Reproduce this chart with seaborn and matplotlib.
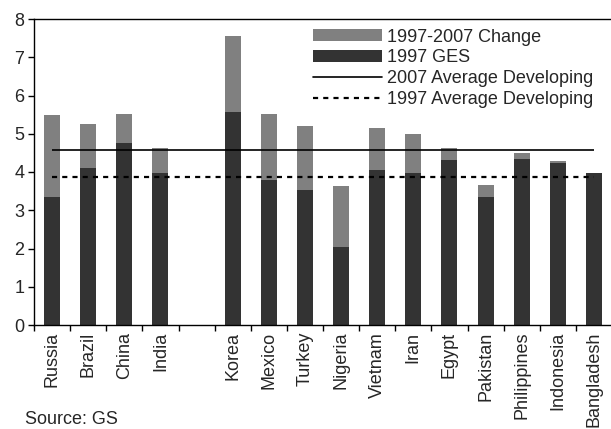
import matplotlib
matplotlib.use("Agg")
import matplotlib.pyplot as plt
import seaborn as sns
import pandas as pd
from matplotlib.patches import Patch
from matplotlib.lines import Line2D

# Data
countries = ["Russia", "Brazil", "China", "India", "Korea", "Mexico", "Turkey",
             "Nigeria", "Vietnam", "Iran", "Egypt", "Pakistan", "Philippines",
             "Indonesia", "Bangladesh"]
ges_1997 = [3.35, 4.10, 4.76, 3.98, 5.57, 3.79, 3.53, 2.04, 4.05, 3.97, 4.31,
            3.35, 4.34, 4.24, 3.97]
ges_2007 = [5.49, 5.25, 5.52, 4.63, 7.56, 5.52, 5.20, 3.63, 5.15, 4.99, 4.63,
            3.66, 4.50, 4.29, 3.97]
order = ["Russia", "Brazil", "China", "India", " ", "Korea", "Mexico", "Turkey",
         "Nigeria", "Vietnam", "Iran", "Egypt", "Pakistan", "Philippines",
         "Indonesia", "Bangladesh"]
avg_2007 = 4.58
avg_1997 = 3.87
yticks = [0, 1, 2, 3, 4, 5, 6, 7, 8]

df = pd.DataFrame({"country": countries, "ges1997": ges_1997, "ges2007": ges_2007})

FS = 13

sns.set_style("ticks")
plt.rcParams["font.family"] = ["Liberation Sans", "DejaVu Sans"]
plt.rcParams["font.size"] = FS

fig = plt.figure(figsize=(6.11, 4.29), dpi=100)
ax = fig.add_axes([34 / 611, 1 - 325 / 429, 578 / 611, 306 / 429])

c_change = "#808080"
c_base = "#333333"

sns.barplot(data=df, x="country", y="ges2007", order=order, color=c_change,
            saturation=1, width=0.44, linewidth=0, ax=ax, errorbar=None)
sns.barplot(data=df, x="country", y="ges1997", order=order, color=c_base,
            saturation=1, width=0.44, linewidth=0, ax=ax, errorbar=None)

x0 = order.index(countries[0])
x1 = order.index(countries[-1])
ax.plot([x0, x1], [avg_2007, avg_2007], color="black", lw=1.2, solid_capstyle="butt")
ax.plot([x0, x1], [avg_1997, avg_1997], color="black", lw=1.6,
        linestyle=(0, (2.3, 2.3)))

ax.set_xlim(-0.5, len(order) - 0.5)
ax.set_ylim(0, 8)
ax.set_yticks(yticks)
ax.set_xlabel("")
ax.set_ylabel("")

ax.set_xticks(range(len(order)))
ax.set_xticklabels(order, rotation=90, fontsize=FS)
ax.set_xticks([i - 0.5 for i in range(len(order) + 1)], minor=True)
ax.tick_params(axis="x", which="major", length=0, pad=5)
ax.tick_params(axis="x", which="minor", length=4, width=1, direction="out", color="black")
ax.tick_params(axis="y", length=4, width=1, direction="out", color="black",
               labelsize=FS, pad=3)

for s in ["left", "bottom", "top"]:
    ax.spines[s].set_visible(True)
    ax.spines[s].set_color("black")
    ax.spines[s].set_linewidth(1.0)
ax.spines["right"].set_visible(False)

handles = [
    Patch(facecolor=c_change, edgecolor="none", label="1997-2007 Change"),
    Patch(facecolor=c_base, edgecolor="none", label="1997 GES"),
    Line2D([], [], color="black", lw=1.2, label="2007 Average Developing"),
    Line2D([], [], color="black", lw=1.6, linestyle=(0, (2.3, 2.3)),
           label="1997 Average Developing"),
]
fig.legend(handles=handles, loc="upper left", bbox_to_anchor=(313 / 611, 1 - 28.5 / 429),
           frameon=False, borderpad=0, borderaxespad=0, handlelength=3.8,
           handleheight=0.66, handletextpad=0.28, labelspacing=0.22, fontsize=FS)

fig.text(25 / 611, 1 - 424.5 / 429, "Source: GS", fontsize=FS, ha="left", va="baseline")

fig.savefig("out.png", dpi=100)
